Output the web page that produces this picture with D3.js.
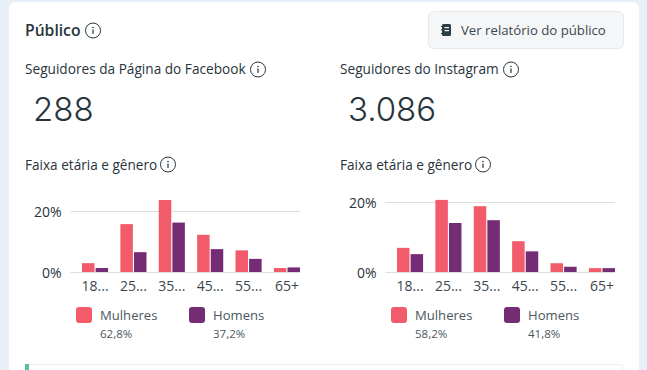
<!DOCTYPE html>
<html lang="pt-BR">
<head>
<meta charset="utf-8">
<title>Público</title>
<script src="https://cdnjs.cloudflare.com/ajax/libs/d3/7.8.5/d3.min.js"></script>
<style>
  html, body { margin: 0; padding: 0; background: #e8eff9; overflow: hidden; }
  svg { display: block; font-family: "Open Sans", sans-serif; }
  .tick line { stroke: #dcdde0; }
  .domain { display: none; }
</style>
</head>
<body>
<div id="painel"></div>
<script>
// Dados
const faixas = ["18...", "25...", "35...", "45...", "55...", "65+"];
const ticksY = [0, 20];

const mulheresFacebook = [2.9, 15.7, 23.6, 12.2, 7.1, 1.3];
const homensFacebook = [1.3, 6.5, 16.2, 7.5, 4.3, 1.5];
const mulheresInstagram = [6.9, 20.6, 18.8, 8.8, 2.5, 1.1];
const homensInstagram = [5.1, 14, 14.8, 5.9, 1.5, 1.1];

const totaisFacebook = ["62,8%", "37,2%"];
const totaisInstagram = ["58,2%", "41,8%"];
const generos = ["Mulheres", "Homens"];

const corMulheres = "#f25c6a";
const corHomens = "#742d75";
const corTexto = "#27343c";

const width = 647;
const height = 370;

const svg = d3.select("#painel")
  .append("svg")
  .attr("width", width)
  .attr("height", height);

// Cartão branco
svg.append("rect")
  .attr("x", 9).attr("y", 2)
  .attr("width", 630).attr("height", 400)
  .attr("rx", 6)
  .attr("fill", "#fff");

// Ícone de informação
function iconeInfo(cx, cy, r = 7.5) {
  const g = svg.append("g").attr("transform", `translate(${cx},${cy})`);
  g.append("circle").attr("r", r).attr("fill", "none").attr("stroke", "#27343c").attr("stroke-width", 1);
  g.append("rect").attr("x", -0.6).attr("y", -1).attr("width", 1.2).attr("height", 4.4).attr("fill", "#27343c");
  g.append("circle").attr("cy", -3).attr("r", 0.8).attr("fill", "#27343c");
}

function texto(x, y, conteudo, tamanho, cor = corTexto, peso = 400) {
  return svg.append("text")
    .attr("x", x).attr("y", y)
    .attr("font-size", tamanho)
    .attr("font-weight", peso)
    .attr("fill", cor)
    .text(conteudo);
}

// Cabeçalho
texto(25, 36, "Público", 15.7, "#27343c", 600);
iconeInfo(93, 30.5);

// Botão
svg.append("rect")
  .attr("x", 428.5).attr("y", 11.5)
  .attr("width", 195).attr("height", 37)
  .attr("rx", 5)
  .attr("fill", "#f5f6f7")
  .attr("stroke", "#e6e8eb");
const icone = svg.append("g").attr("transform", "translate(441,24)");
icone.append("rect").attr("x", 1).attr("width", 9).attr("height", 12).attr("rx", 1.5).attr("fill", "#2f3b43");
icone.append("rect").attr("x", 3.5).attr("y", 3).attr("width", 4.5).attr("height", 1.2).attr("fill", "#f5f6f7");
icone.append("rect").attr("x", 3.5).attr("y", 6).attr("width", 4.5).attr("height", 1.2).attr("fill", "#f5f6f7");
icone.selectAll("line.argola")
  .data(["2.5", "6", "9.5"])
  .join("line")
  .attr("x1", 0).attr("x2", 2)
  .attr("y1", d => d).attr("y2", d => d)
  .attr("stroke", "#2f3b43");
texto(461, 35, "Ver relatório do público", 13.2, "#3b474f");

// Faixa verde do próximo cartão, no rodapé
svg.append("rect")
  .attr("x", 25).attr("y", 364.5)
  .attr("width", 598).attr("height", 20)
  .attr("rx", 4)
  .attr("fill", "#fff")
  .attr("stroke", "#eceef0");
svg.append("rect")
  .attr("x", 25).attr("y", 364)
  .attr("width", 4).attr("height", 6)
  .attr("fill", "#5cbf9f");

// Um gráfico de barras agrupadas com a sua legenda
function grafico(op) {
  const x0 = d3.scaleBand()
    .domain(faixas)
    .range([op.inicio, op.fim])
    .paddingInner(0.32)
    .paddingOuter(0);
  const x1 = d3.scaleBand()
    .domain(generos)
    .range([0, x0.bandwidth()])
    .paddingInner(0.08);
  const y = d3.scaleLinear()
    .domain([0, 20])
    .range([272, op.topo]);

  const g = svg.append("g");

  // Linhas de grade e rótulos do eixo Y
  g.append("g")
    .attr("transform", `translate(${op.fim},0)`)
    .call(d3.axisLeft(y)
      .tickValues(ticksY)
      .tickSize(op.fim - op.inicio + 11.5)
      .tickPadding(9)
      .tickFormat(d => d + "%"))
    .call(s => s.selectAll("text")
      .attr("dy", "0.42em")
      .attr("font-size", 14)
      .attr("font-family", "Open Sans, sans-serif")
      .attr("fill", "#27343c"));

  faixas.forEach((faixa, i) => {
    const grupo = g.append("g").attr("transform", `translate(${x0(faixa)},0)`);
    [[generos[0], op.mulheres[i], corMulheres], [generos[1], op.homens[i], corHomens]].forEach(([nome, valor, cor]) => {
      grupo.append("rect")
        .attr("x", x1(nome))
        .attr("y", y(valor))
        .attr("width", x1.bandwidth())
        .attr("height", y(0) - y(valor))
        .attr("fill", cor);
    });
  });

  // Eixo X
  g.append("g")
    .attr("transform", "translate(0,272)")
    .call(d3.axisBottom(x0).tickSize(0).tickPadding(9))
    .call(s => s.selectAll("text")
      .attr("font-size", 14)
      .attr("font-family", "Open Sans, sans-serif")
      .attr("fill", "#3b474f"));

  // Legenda
  [corMulheres, corHomens].forEach((cor, i) => {
    const lx = op.legenda + i * 113;
    svg.append("rect")
      .attr("x", lx).attr("y", 307)
      .attr("width", 16).attr("height", 16)
      .attr("rx", 3)
      .attr("fill", cor);
    texto(lx + 24, 320, generos[i], 13.1, "#4b5760");
    texto(lx + 24, 338, op.totais[i], 11.5, "#4b5760");
  });
}

// Coluna do Facebook
texto(25, 74, "Seguidores da Página do Facebook", 13.65);
iconeInfo(258, 69.5);
texto(33, 121, "288", 33, "#27343c", 300).attr("font-family", "Inter, sans-serif");
texto(25, 170, "Faixa etária e gênero", 13.6);
iconeInfo(168, 164.5);
grafico({
  inicio: 82, fim: 300, topo: 211,
  mulheres: mulheresFacebook, homens: homensFacebook,
  totais: totaisFacebook, legenda: 76
});

// Coluna do Instagram
texto(340, 74, "Seguidores do Instagram", 13.65);
iconeInfo(511, 69.5);
texto(348, 121, "3.086", 33, "#27343c", 300).attr("font-family", "Inter, sans-serif");
texto(340, 170, "Faixa etária e gênero", 13.6);
iconeInfo(483, 164.5);
grafico({
  inicio: 397, fim: 615, topo: 202,
  mulheres: mulheresInstagram, homens: homensInstagram,
  totais: totaisInstagram, legenda: 391
});
</script>
</body>
</html>
